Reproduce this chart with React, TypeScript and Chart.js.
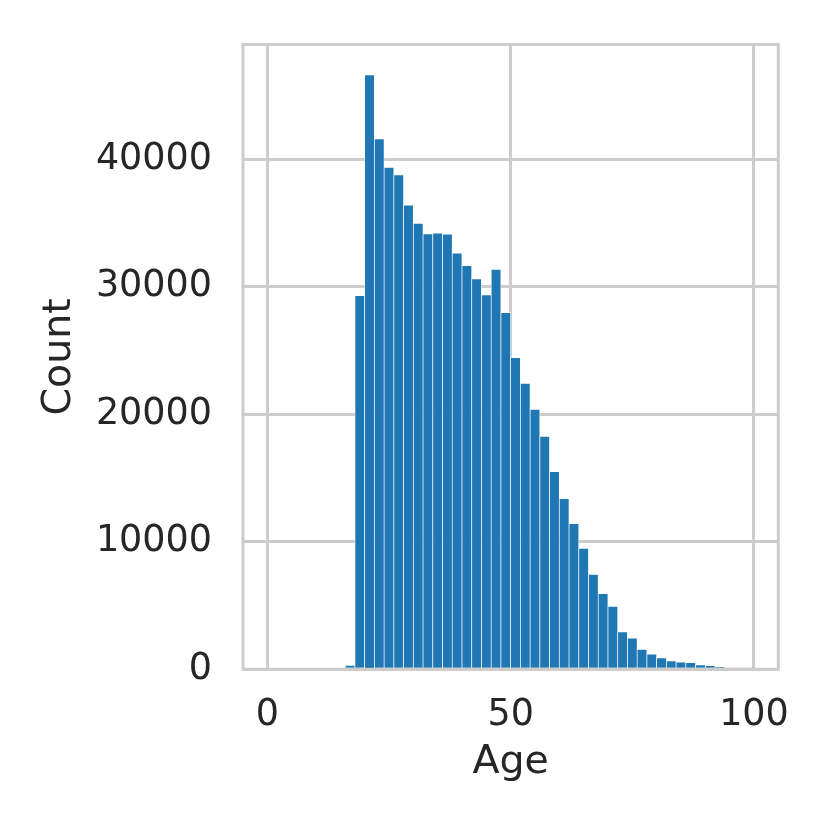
import React, { useEffect, useRef } from "react";
import { Chart, registerables } from "chart.js";

Chart.register(...registerables);

// Histogram of Age: bin centres (bin width 2, from 0 to 100) and counts
const binCenters = [
  1, 3, 5, 7, 9, 11, 13, 15, 17, 19, 21, 23, 25, 27, 29, 31, 33, 35, 37, 39,
  41, 43, 45, 47, 49, 51, 53, 55, 57, 59, 61, 63, 65, 67, 69, 71, 73, 75, 77, 79,
  81, 83, 85, 87, 89, 91, 93, 95, 97, 99,
];
const counts = [
  0, 0, 0, 0, 0, 0, 0, 0, 310, 29300, 46610, 41590, 39370, 38770, 36410, 34980,
  34140, 34200, 34120, 32630, 31650, 30610, 29360, 31370, 27980, 24440, 22430,
  20390, 18270, 15500, 13380, 11420, 9490, 7450, 5930, 4940, 2930, 2450, 1570,
  1180, 890, 670, 570, 520, 340, 280, 200, 70, 30, 15,
];
const xTicks = [0, 50, 100];
const yTicks = [0, 10000, 20000, 30000, 40000];

const GRID = "#cccccc";
const TEXT = "#262626";
const FONT = "'DejaVu Sans', sans-serif";

const spinePlugin = {
  id: "spines",
  afterDatasetsDraw(chart: any) {
    const { ctx, chartArea } = chart;
    ctx.save();
    ctx.strokeStyle = GRID;
    ctx.lineWidth = 3;
    ctx.strokeRect(
      chartArea.left,
      chartArea.top,
      chartArea.right - chartArea.left,
      chartArea.bottom - chartArea.top
    );
    ctx.restore();
  },
};

export default function App() {
  const ref = useRef<HTMLCanvasElement | null>(null);

  useEffect(() => {
    if (!ref.current) return;
    const chart = new Chart(ref.current, {
      type: "bar",
      data: {
        datasets: [
          {
            label: "Count",
            data: binCenters.map((x, i) => ({ x, y: counts[i] })),
            backgroundColor: "#1f77b4",
            borderColor: "rgba(255,255,255,0.85)",
            borderWidth: 0.7,
            barPercentage: 1,
            categoryPercentage: 1,
          },
        ],
      },
      options: {
        animation: false,
        responsive: false,
        devicePixelRatio: 1,
        layout: { padding: { top: 44.5, right: 51.7, left: 0, bottom: 0 } },
        plugins: {
          legend: { display: false },
          tooltip: { enabled: false },
        },
        scales: {
          x: {
            type: "linear",
            min: -5,
            max: 105,
            offset: false,
            afterFit: (s: any) => {
              s.height = 160.7;
              s.paddingLeft = 0;
              s.paddingRight = 0;
            },
            afterBuildTicks: (s: any) => {
              s.ticks = xTicks.map((v) => ({ value: v }));
            },
            grid: { color: GRID, lineWidth: 3, drawTicks: false, offset: false },
            border: { display: false },
            ticks: {
              color: TEXT,
              font: { family: FONT, size: 36.5 },
              padding: 24,
              maxRotation: 0,
              callback: (v: any) => String(v),
            },
            title: {
              display: true,
              text: "Age",
              color: TEXT,
              font: { family: FONT, size: 39.5 },
              padding: { top: 0, bottom: 44 },
            },
          },
          y: {
            type: "linear",
            min: 0,
            max: 49000,
            afterFit: (s: any) => {
              s.width = 243;
              s.paddingTop = 0;
              s.paddingBottom = 0;
            },
            afterBuildTicks: (s: any) => {
              s.ticks = yTicks.map((v) => ({ value: v }));
            },
            grid: { color: GRID, lineWidth: 3, drawTicks: false },
            border: { display: false },
            ticks: {
              color: TEXT,
              font: { family: FONT, size: 36.5 },
              padding: 31,
              callback: (v: any) => String(v),
            },
            title: {
              display: true,
              text: "Count",
              color: TEXT,
              font: { family: FONT, size: 39.5 },
              padding: { top: 36, bottom: 0 },
            },
          },
        },
      },
      plugins: [spinePlugin],
    });
    return () => chart.destroy();
  }, []);

  return (
    <div style={{ position: "fixed", left: 0, top: 0, width: 830, height: 830, background: "#fff" }}>
      <canvas ref={ref} width={830} height={830} />
    </div>
  );
}
